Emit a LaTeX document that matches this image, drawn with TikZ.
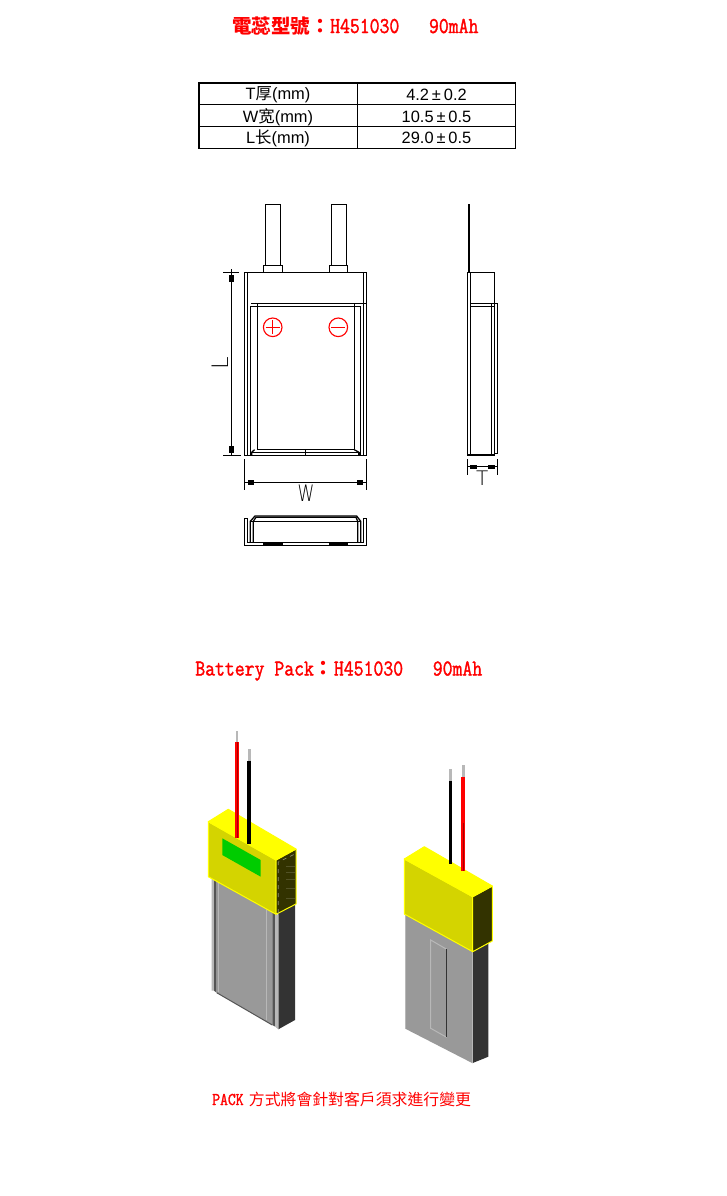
\documentclass[tikz,border=0pt]{standalone}
\usepackage{fontspec}
\setmainfont{Liberation Sans}
\newfontfamily\cjk{Noto Sans CJK TC}
\newfontfamily\cjksc{Noto Sans CJK SC}
\newfontfamily\headmono[FakeBold=1.6]{Latin Modern Mono}
\newfontfamily\thinsans{DejaVu Sans ExtraLight}
\definecolor{capyellow}{HTML}{FFFF00}
\definecolor{capfront}{HTML}{D4D400}
\definecolor{capside}{HTML}{333300}
\definecolor{labelgreen}{HTML}{00CC00}
\definecolor{cellgrey}{HTML}{999999}
\definecolor{celllight}{HTML}{B8B8B8}
\definecolor{cellmid}{HTML}{555555}
\definecolor{celldark}{HTML}{333333}
\newcommand{\latin}[2]{\scalebox{1}[1.18]{\fontsize{#1}{#1}\selectfont\headmono #2}}
\newcommand{\widecolon}{{\cjk\bfseries\fontsize{15}{15}\selectfont\symbol{"FF1A}}}
\tikzset{
    cad/.style={line width=0.95pt,black},
    mark red/.style={line width=0.85pt,red},
    cap edge/.style={draw=capyellow,line width=0.75pt,line join=round},
    title text/.style={inner sep=0pt,anchor=base west,text=red},
    cell text/.style={inner sep=0pt,font=\fontsize{12.3}{12.3}\selectfont},
    stroke text/.style={inner sep=0pt,font=\thinsans\fontsize{17}{17}\selectfont}
}
\begin{document}
\begin{tikzpicture}[x=0.75pt,y=-0.75pt]
\useasboundingbox[fill=white] (0,0) rectangle (726,1196);

% titles
\node[title text] (titlecell) at (232,33) {{\cjk\bfseries\fontsize{14.6}{14.6}\selectfont 電蕊型號}\widecolon\latin{14.4}{H451030~~~90mAh}};
\node[title text] (titlepack) at (195,675.5) {\latin{14.4}{Battery~Pack}\widecolon\latin{14.4}{H451030~~~90mAh}};
\node[title text] (notepack) at (212,1105) {\latin{11.4}{PACK}\hspace{4pt}{\cjk\fontsize{11.9}{11.9}\selectfont 方式將會針對客戶須求進行變更}};

% table
\draw[cad] (199,83) rectangle (515.7,148.3);
\draw[cad] (357.3,83) -- (357.3,148.3);
\foreach \y in {104.3,126.3} {
    \draw[cad] (199,\y) -- (515.7,\y);
}
\node[cell text] (rowT) at (278,95) {T{\cjksc 厚}(mm)};
\node[cell text] (rowW) at (278,117) {W{\cjksc 宽}(mm)};
\node[cell text] (rowL) at (278,138) {L{\cjksc 长}(mm)};
\node[cell text] (valT) at (436.5,94.5) {4.2\hspace{2.2pt}±\hspace{2.2pt}0.2};
\node[cell text] (valW) at (436.5,116.5) {10.5\hspace{2.2pt}±\hspace{2.2pt}0.5};
\node[cell text] (valL) at (436.5,137.5) {29.0\hspace{2.2pt}±\hspace{2.2pt}0.5};

% front view
\foreach \x in {265.3,331.3} {
    \draw[cad] (\x,265.3) -- (\x,204.3) -- (\x+15,204.3) -- (\x+15,265.3);
}
\draw[cad] (263.3,272.3) rectangle (282.7,265.3);
\draw[cad] (329.3,272.3) rectangle (347.7,265.3);
\draw[cad] (244.3,272.3) rectangle (366.3,455.3);
\draw[cad] (247.7,272.3) -- (247.7,455.3);
\draw[cad] (363.3,272.3) -- (363.3,455.3);
\draw[cad] (251,303.3) -- (366.3,303.3);
\draw[cad] (250.3,455.3) -- (250.3,306.3) -- (360.3,306.3) -- (360.3,455.3);
\draw[cad] (257.3,303.3) -- (257.3,449.7) -- (354.3,449.7) -- (354.3,303.3);
\draw[cad] (251.7,455.3) -- (251.7,452.3) -- (254.5,449.7);
\draw[cad] (251.7,452.3) -- (359,452.3) -- (359,455.3);
\draw[cad] (359,452.3) -- (354.3,449.7);
\draw[cad] (305.3,449.7) -- (305.3,455.3);
\draw[mark red] (272.7,327.3) circle (9.3);
\draw[mark red] (338.3,327.3) circle (9.3);
\draw[mark red] (265.7,327.3) -- (279.7,327.3);
\draw[mark red] (272.7,320.3) -- (272.7,334.3);
\draw[mark red] (331.3,327.3) -- (345.3,327.3);

% L dimension
\draw[cad] (223,272.3) -- (238.7,272.3);
\draw[cad] (223,455.3) -- (240.7,455.3);
\draw[cad] (231.3,269) -- (231.3,455.3);
\fill (229,275) rectangle (234,281.7);
\fill (229,446) rectangle (234,453);
\node[stroke text,rotate=90] (dimL) at (220,363) {L};

% W dimension
\draw[cad] (244.3,459) -- (244.3,490);
\draw[cad] (366.3,459) -- (366.3,490);
\draw[cad] (244.3,482.3) -- (366.3,482.3);
\fill (247.5,480) rectangle (254,484.5);
\fill (356.7,480) rectangle (363,484.5);
\node[stroke text,xscale=0.75] (dimW) at (306,493) {W};

% bottom view
\draw[cad] (244.3,518.3) -- (244.3,545.7) -- (366.3,545.7) -- (366.3,518.3) -- (363.3,518.3) -- (363.3,542.7) -- (247.7,542.7) -- (247.7,518.3) -- cycle;
\fill (263,543) rectangle (282.7,546);
\fill (329,543) rectangle (348,546);
\draw[cad] (250.3,542.7) -- (250.3,521.3) -- (255,516) -- (356.7,516) -- (360.7,521.3) -- (360.7,542.7);
\draw[cad] (253.3,542.7) -- (253.3,521.3) -- (256,517.3) -- (356,517.3) -- (357.7,521.3) -- (357.7,542.7);
\draw[cad] (250.3,521.3) -- (360.7,521.3);

% side view
\draw[cad,line width=1.5pt] (468.7,204) -- (468.7,272.3);
\draw[cad] (467.3,272.3) rectangle (494.3,455);
\draw[cad] (470.7,272.3) -- (470.7,455);
\draw[cad] (470.7,303.3) -- (497.3,303.3) -- (497.3,453.3) -- (494.3,453.3);
\draw[cad] (470.7,306.3) -- (494.3,306.3);
\draw[cad] (491.7,303.3) -- (491.7,455);
\draw[cad] (467.3,459.3) -- (467.3,475);
\draw[cad] (497.3,459.3) -- (497.3,475);
\draw[cad] (467.3,466.7) -- (497.3,466.7);
\fill (470,464.7) rectangle (476.7,468.7);
\fill (487.7,464.7) rectangle (495,468.7);
\node[stroke text,font=\thinsans\fontsize{15}{15}\selectfont] (dimT) at (482.3,478) {T};

% left pack, cell
\fill[celldark] (278.3,904) -- (295,904) -- (295,1020) -- (278.3,1029.3) -- cycle;
\fill[celllight] (211.7,878) -- (214,879) -- (214,990.7) -- (211.7,990.7) -- cycle;
\fill[cellmid] (214,879) -- (216.7,880) -- (216.7,992.7) -- (214,990.7) -- cycle;
\fill[cellgrey] (216.7,880) -- (272.3,911) -- (272.3,1025) -- (216.7,992.7) -- cycle;
\fill[cellmid] (272.3,911) -- (275,913) -- (275,1026.5) -- (272.3,1025) -- cycle;
\fill[celllight] (275,913) -- (278.3,915) -- (278.3,1029.3) -- (275,1026.5) -- cycle;
\draw[celllight,line width=0.75pt] (218.3,881) -- (218.3,991.5);
\draw[celllight,line width=0.75pt] (266.7,908) -- (266.7,1020);
\draw[cellmid,line width=0.75pt] (216.7,992.7) -- (272.3,1025);

% left pack, cap and wires
\filldraw[fill=capfront,cap edge] (208.3,821.7) -- (276,860) -- (276,914.3) -- (208.3,876.7) -- cycle;
\filldraw[fill=capside,cap edge] (276,860) -- (296,849) -- (296,904) -- (276,914.3) -- cycle;
\filldraw[fill=capyellow,cap edge] (208.3,821.7) -- (228.3,809.3) -- (296,849) -- (276,860) -- cycle;
\fill[labelgreen] (222.3,838.3) -- (260.7,860) -- (260.7,876.7) -- (222.3,855) -- cycle;
\draw[white!45!capside,line width=0.5pt,dashed] (278.3,913) -- (278.3,862) -- (295,854);
\foreach \y in {866,872,879,888,898} {
    \draw[white!15!capside,line width=0.5pt] (286,\y) -- (295,\y);
}
\fill[red] (235,742.3) rectangle (239,837.7);
\fill[red!65!black] (236.5,742.3) rectangle (237.5,837.7);
\fill[celllight] (235.5,731) rectangle (238.4,742.3);
\fill[black] (247,761) rectangle (251,844.3);
\fill[celllight] (248.3,749) rectangle (251,761);

% right pack, cell
\fill[celldark] (472.7,940) -- (488.3,940) -- (488.3,1056.7) -- (472.7,1063) -- cycle;
\fill[cellgrey] (405.3,910) -- (472.7,948) -- (472.7,1063.3) -- (405.3,1028.7) -- cycle;
\draw[celllight,line width=0.75pt] (405.3,910) -- (405.3,1028.7);
\draw[celllight,line width=0.75pt] (472.7,948) -- (472.7,1063.3);
\draw[celllight,line width=0.75pt] (446.7,949.3) -- (430.7,940) -- (430.7,1028.3) -- (446.7,1037.3);
\draw[celldark,line width=0.9pt] (446.7,949.3) -- (446.7,1037.3);

% right pack, cap and wires
\filldraw[fill=capfront,cap edge] (404.3,859) -- (472.7,896.7) -- (472.7,951.7) -- (404.3,914) -- cycle;
\filldraw[fill=capside,cap edge] (472.7,896.7) -- (492.3,886) -- (492.3,941) -- (472.7,951.7) -- cycle;
\filldraw[fill=capyellow,cap edge] (404.3,859) -- (424.3,846.7) -- (492.3,886) -- (472.7,896.7) -- cycle;
\fill[black] (449,780.7) rectangle (452.3,864);
\fill[celllight] (449.3,769.3) rectangle (452,780.7);
\fill[red] (461,776.7) rectangle (465,871.3);
\fill[red!65!black] (462.5,823) rectangle (463.5,871.3);
\fill[celllight] (462,765) rectangle (464.7,776.7);
\end{tikzpicture}
\end{document}
